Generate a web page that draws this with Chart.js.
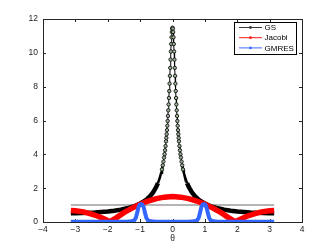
<!DOCTYPE html>
<html>
<head>
<meta charset="utf-8">
<script src="https://cdn.jsdelivr.net/npm/chart.js@4.4.0/dist/chart.umd.min.js"></script>
<style>
  html, body { margin: 0; padding: 0; background: #fff; }
  #wrap { width: 332px; height: 250px; }
</style>
</head>
<body>
<div id="wrap"><canvas id="plot"></canvas></div>
<script>
// values
const gsTheta = [-3.14, -3.0, -2.8, -2.6, -2.4, -2.2, -2.0, -1.8, -1.6, -1.4, -1.2, -1.0, -0.9, -0.8, -0.7, -0.6, -0.5, -0.45, -0.4, -0.35, -0.325, -0.3, -0.28, -0.26, -0.245, -0.23, -0.215, -0.2, -0.19, -0.18, -0.17, -0.16, -0.15, -0.14, -0.13, -0.12, -0.11, -0.1, -0.09, -0.08, -0.07, -0.06, -0.05, -0.04, -0.03, -0.02, -0.01, 0,
  0.01, 0.02, 0.03, 0.04, 0.05, 0.06, 0.07, 0.08, 0.09, 0.1, 0.11, 0.12, 0.13, 0.14, 0.15, 0.16, 0.17, 0.18, 0.19, 0.2, 0.215, 0.23, 0.245, 0.26, 0.28, 0.3, 0.325, 0.35, 0.4, 0.45, 0.5, 0.6, 0.7, 0.8, 0.9, 1.0, 1.2, 1.4, 1.6, 1.8, 2.0, 2.2, 2.4, 2.6, 2.8, 3.0, 3.14];
const gsValues = [0.52, 0.52, 0.53, 0.54, 0.56, 0.59, 0.62, 0.67, 0.73, 0.81, 0.92, 1.09, 1.2, 1.33, 1.51, 1.75, 2.08, 2.3, 2.57, 2.91, 3.11, 3.35, 3.57, 3.81, 4.01, 4.24, 4.49, 4.77, 4.97, 5.19, 5.43, 5.69, 5.97, 6.27, 6.6, 6.95, 7.33, 7.74, 8.18, 8.64, 9.11, 9.6, 10.08, 10.52, 10.92, 11.23, 11.43, 11.49,
  11.43, 11.23, 10.92, 10.52, 10.08, 9.6, 9.11, 8.64, 8.18, 7.74, 7.33, 6.95, 6.6, 6.27, 5.97, 5.69, 5.43, 5.19, 4.97, 4.77, 4.49, 4.24, 4.01, 3.81, 3.57, 3.35, 3.11, 2.91, 2.57, 2.3, 2.08, 1.75, 1.51, 1.33, 1.2, 1.09, 0.92, 0.81, 0.73, 0.67, 0.62, 0.59, 0.56, 0.54, 0.53, 0.52, 0.52];

const jacobiTheta = [-3.14, -3.0, -2.75, -2.5, -2.3, -2.1, -1.93, -1.75, -1.5, -1.25, -1.0, -0.75, -0.5, -0.25, 0, 0.25, 0.5, 0.75, 1.0, 1.25, 1.5, 1.75, 1.93, 2.1, 2.3, 2.5, 2.75, 3.0, 3.14];
const jacobiValues = [0.68, 0.67, 0.6, 0.47, 0.34, 0.17, 0.02, 0.23, 0.55, 0.82, 1.05, 1.24, 1.38, 1.47, 1.5, 1.47, 1.38, 1.24, 1.05, 0.82, 0.55, 0.23, 0.02, 0.17, 0.34, 0.47, 0.6, 0.67, 0.68];

const gmresTheta = [-3.14, -2.0, -1.4, -1.26, -1.18, -1.13, -1.09, -1.05, -1.01, -0.97, -0.93, -0.89, -0.85, -0.81, -0.76, -0.68, -0.5, 0, 0.5, 0.68, 0.76, 0.81, 0.85, 0.89, 0.93, 0.97, 1.01, 1.05, 1.09, 1.13, 1.18, 1.26, 1.4, 2.0, 3.14];
const gmresValues = [0.01, 0.01, 0.02, 0.04, 0.1, 0.25, 0.55, 0.88, 1.03, 1.06, 1.03, 0.88, 0.55, 0.25, 0.1, 0.04, 0.02, 0.01, 0.02, 0.04, 0.1, 0.25, 0.55, 0.88, 1.03, 1.06, 1.03, 0.88, 0.55, 0.25, 0.1, 0.04, 0.02, 0.01, 0.01];

const refTheta = [-3.14, 3.14];
const refValues = [1, 1];

const xTicks = [-4, -3, -2, -1, 0, 1, 2, 3, 4];
const yTicks = [0, 2, 4, 6, 8, 10, 12];
const seriesNames = ['GS', 'Jacobi', 'GMRES'];

const FONT = "'Liberation Sans', Arial, Helvetica, sans-serif";

function pts(xs, ys) {
  return xs.map((x, i) => ({ x: x, y: ys[i] }));
}
function fmt(v) {
  return v < 0 ? '\u2212' + Math.abs(v) : String(v);
}

// box, inward ticks and the theta label, drawn under the data like matlab
const axesFrame = {
  id: 'axesFrame',
  beforeDatasetsDraw(chart) {
    const { ctx, chartArea: a, scales } = chart;
    ctx.save();
    ctx.strokeStyle = '#262626';
    ctx.lineWidth = 1;
    ctx.strokeRect(Math.round(a.left) + 0.5, Math.round(a.top) + 0.5,
      Math.round(a.right - a.left), Math.round(a.bottom - a.top));
    ctx.beginPath();
    xTicks.forEach(v => {
      const px = Math.round(scales.x.getPixelForValue(v)) + 0.5;
      ctx.moveTo(px, a.bottom); ctx.lineTo(px, a.bottom - 3);
      ctx.moveTo(px, a.top); ctx.lineTo(px, a.top + 3);
    });
    yTicks.forEach(v => {
      const py = Math.round(scales.y.getPixelForValue(v)) + 0.5;
      ctx.moveTo(a.left, py); ctx.lineTo(a.left + 3, py);
      ctx.moveTo(a.right, py); ctx.lineTo(a.right - 3, py);
    });
    ctx.stroke();
    ctx.fillStyle = '#222';
    ctx.font = '8.5px ' + FONT;
    ctx.textAlign = 'center';
    ctx.textBaseline = 'middle';
    ctx.fillText('\u03b8', scales.x.getPixelForValue(0), 238.5);
    ctx.restore();
  }
};

// legend box in the top right corner
const boxLegend = {
  id: 'boxLegend',
  afterDraw(chart) {
    const { ctx } = chart;
    const colors = ['#3a3a3a', '#ff1a1a', '#3f6bff'];
    ctx.save();
    ctx.fillStyle = '#fff';
    ctx.fillRect(234, 22, 63, 33);
    ctx.strokeStyle = '#000';
    ctx.lineWidth = 1;
    ctx.strokeRect(234.5, 22.5, 62, 32);
    ctx.font = '8px ' + FONT;
    ctx.textBaseline = 'middle';
    ctx.textAlign = 'left';
    seriesNames.forEach((name, i) => {
      const y = 27.5 + i * 10.2;
      ctx.strokeStyle = colors[i];
      ctx.beginPath();
      ctx.moveTo(239, y); ctx.lineTo(262, y);
      ctx.stroke();
      ctx.fillStyle = colors[i];
      ctx.beginPath();
      ctx.arc(250.5, y, 1.4, 0, Math.PI * 2);
      ctx.fill();
      ctx.fillStyle = '#000';
      ctx.fillText(name, 264.5, y + 0.5);
    });
    ctx.restore();
  }
};

const ctx = document.getElementById('plot').getContext('2d');
new Chart(ctx, {
  type: 'scatter',
  data: {
    datasets: [
      {
        label: 'GS',
        data: pts(gsTheta, gsValues),
        showLine: true,
        borderColor: '#000',
        borderWidth: 1,
        segment: {
          borderWidth: c => {
            const m = Math.max(c.p0.parsed.y, c.p1.parsed.y);
            return m < 2.4 ? 4.5 : (m < 3.4 ? 2.5 : 1);
          }
        },
        pointRadius: c => (c.raw && c.raw.y >= 3 ? 1.7 : 0),
        pointBorderWidth: 0.9,
        pointBorderColor: '#111',
        pointBackgroundColor: '#9db596',
        order: 3
      },
      {
        label: 'Jacobi',
        data: pts(jacobiTheta, jacobiValues),
        showLine: true,
        borderColor: '#ff0000',
        borderWidth: 5.5,
        pointRadius: 0,
        order: 2
      },
      {
        label: 'GMRES',
        data: pts(gmresTheta, gmresValues),
        showLine: true,
        borderColor: '#3366ff',
        borderWidth: 4,
        pointRadius: 0,
        order: 1
      },
      {
        label: 'ref',
        data: pts(refTheta, refValues),
        showLine: true,
        borderColor: '#b4b4b4',
        borderWidth: 2,
        pointRadius: 0,
        order: 4
      }
    ]
  },
  options: {
    responsive: true,
    maintainAspectRatio: false,
    animation: false,
    devicePixelRatio: 1,
    layout: { padding: { left: 0, right: 30, top: 19, bottom: 0 } },
    plugins: {
      legend: { display: false },
      tooltip: { enabled: false }
    },
    scales: {
      x: {
        type: 'linear',
        min: -4,
        max: 4,
        afterFit: s => { s.height = 28; },
        afterBuildTicks: s => { s.ticks = xTicks.map(v => ({ value: v })); },
        grid: { display: false, drawTicks: false },
        border: { display: false },
        ticks: {
          padding: 3,
          color: '#222',
          font: { size: 8.5, family: FONT },
          maxRotation: 0,
          callback: v => fmt(v)
        }
      },
      y: {
        type: 'linear',
        min: 0,
        max: 12,
        afterFit: s => { s.width = 43; },
        afterBuildTicks: s => { s.ticks = yTicks.map(v => ({ value: v })); },
        grid: { display: false, drawTicks: false },
        border: { display: false },
        ticks: {
          padding: 5,
          color: '#222',
          font: { size: 8.5, family: FONT },
          callback: v => fmt(v)
        }
      }
    }
  },
  plugins: [axesFrame, boxLegend]
});
</script>
</body>
</html>
